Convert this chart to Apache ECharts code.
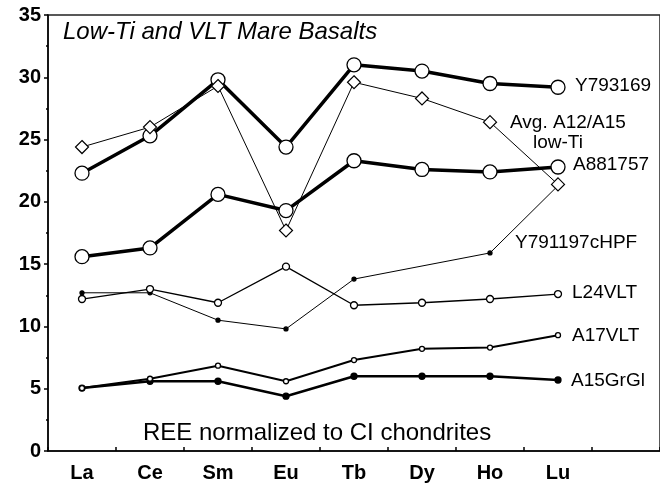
<!DOCTYPE html>
<html>
<head>
<meta charset="utf-8">
<script src="https://cdn.jsdelivr.net/npm/echarts@6/dist/echarts.min.js"></script>
<style>
  html, body { margin: 0; padding: 0; background: #fff; }
  #chart { width: 660px; height: 486px; }
</style>
</head>
<body>
<div id="chart"></div>
<script>
// REE elements (last slot is an empty band at the right edge)
const elements = ['La', 'Ce', 'Sm', 'Eu', 'Tb', 'Dy', 'Ho', 'Lu', '']

const y793169 = [22.3, 25.3, 29.8, 24.4, 31.0, 30.5, 29.5, 29.2]
const avgA12A15 = [24.4, 26.0, 29.3, 17.7, 29.6, 28.3, 26.4, 21.4]
const a881757 = [15.6, 16.3, 20.6, 19.3, 23.3, 22.6, 22.4, 22.8]
const y791197 = [12.7, 12.7, 10.5, 9.8, 13.8, null, 15.9, 21.3]
const l24vlt = [12.2, 13.0, 11.9, 14.8, 11.7, 11.9, 12.2, 12.6]
const a17vlt = [5.05, 5.8, 6.85, 5.6, 7.3, 8.2, 8.3, 9.3]
const a15grgl = [5.05, 5.6, 5.6, 4.4, 6.0, 6.0, 6.0, 5.7]

const yTicks = [0, 5, 10, 15, 20, 25, 30, 35]

const chart = echarts.init(document.getElementById('chart'))
const font = 'Liberation Sans, Arial, Helvetica, sans-serif'

function line(name, data, width, symbol, size, fill, z) {
  return {
    name: name,
    type: 'line',
    data: data,
    connectNulls: true,
    symbol: symbol,
    symbolSize: size,
    showAllSymbol: true,
    lineStyle: { color: '#000', width: width },
    itemStyle: { color: fill, borderColor: '#000', borderWidth: symbol === 'diamond' ? 1.2 : 1.3 },
    z: z
  }
}

function label(text, x, y, extra) {
  return Object.assign({
    type: 'text',
    left: x,
    top: y,
    style: { text: text, font: '19px ' + font, fill: '#000' }
  }, extra || {})
}

const option = {
  backgroundColor: '#fff',
  animation: false,
  grid: {
    left: 48,
    right: -5,
    top: 15,
    bottom: 35,
    show: true,
    borderColor: '#222',
    borderWidth: 1.5
  },
  xAxis: {
    type: 'category',
    data: elements,
    boundaryGap: true,
    axisLine: { lineStyle: { color: '#000', width: 1.5 } },
    axisTick: { show: true, inside: true, length: 4, lineStyle: { color: '#000', width: 1.5 } },
    axisLabel: { color: '#000', fontFamily: font, fontSize: 20, fontWeight: 'bold', margin: 12 },
    splitLine: { show: false }
  },
  yAxis: {
    type: 'value',
    min: yTicks[0],
    max: yTicks[yTicks.length - 1],
    interval: 5,
    axisLine: { show: true, lineStyle: { color: '#000', width: 1.5 } },
    axisTick: { show: true, length: 4, lineStyle: { color: '#000', width: 1.5 } },
    minorTick: { show: true, splitNumber: 2, length: 2, lineStyle: { color: '#000', width: 1.5 } },
    axisLabel: { color: '#000', fontFamily: font, fontSize: 20, fontWeight: 'bold', margin: 7 },
    splitLine: { show: false }
  },
  series: [
    line('Y793169', y793169, 3.5, 'circle', 14, '#fff', 4),
    line('Y791197cHPF', y791197, 1, 'circle', 4, '#000', 3),
    line('Avg. A12/A15 low-Ti', avgA12A15, 1, 'diamond', 13, '#fff', 5),
    line('A881757', a881757, 3.5, 'circle', 14, '#fff', 4),
    line('L24VLT', l24vlt, 1.3, 'circle', 7, '#fff', 3),
    line('A15GrGl', a15grgl, 2.5, 'circle', 6, '#000', 3),
    line('A17VLT', a17vlt, 2, 'circle', 5, '#fff', 4)
  ],
  graphic: [
    label('Low-Ti and VLT Mare Basalts', 63, 20, {
      style: { text: 'Low-Ti and VLT Mare Basalts', font: 'italic 24px ' + font, fill: '#000' }
    }),
    label('REE normalized to CI chondrites', 143, 421, {
      style: { text: 'REE normalized to CI chondrites', font: '24px ' + font, fill: '#000' }
    }),
    label('Y793169', 575, 76),
    label('Avg. A12/A15', 510, 113),
    label('low-Ti', 533, 133),
    label('A881757', 573, 155),
    label('Y791197cHPF', 515, 233),
    label('L24VLT', 572, 283),
    label('A17VLT', 572, 326),
    label('A15GrGl', 571, 371)
  ]
}

chart.setOption(option)
</script>
</body>
</html>
